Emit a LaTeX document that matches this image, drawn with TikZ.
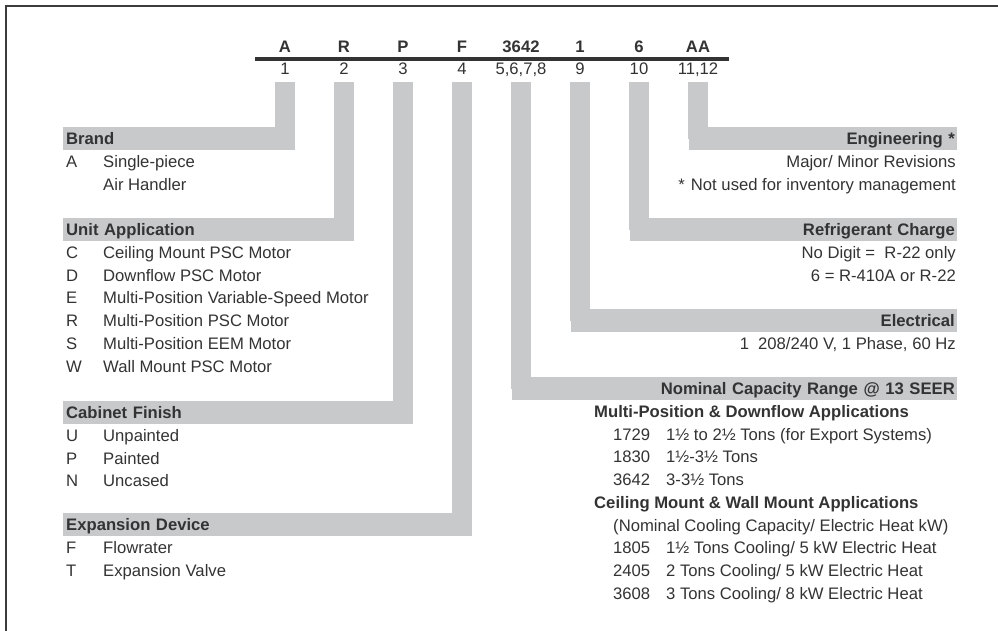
\documentclass[tikz,border=0pt]{standalone}
\usepackage{fontspec}
\setmainfont{Liberation Sans}
\usetikzlibrary{positioning}
\definecolor{mnbar}{HTML}{C8C9CB}
\definecolor{mntext}{HTML}{333333}
\definecolor{mnframe}{HTML}{3C3C3C}

\begin{document}
\begin{tikzpicture}[
  x=1pt, y=-1pt,
  every node/.style={text=mntext, font=\fontsize{16.66}{20}\selectfont},
  code/.style={font=\fontsize{16.66}{20}\selectfont\bfseries,
    text height=12pt, text depth=0pt, inner sep=0pt},
  digit/.style={text height=12pt, text depth=0pt, inner xsep=0pt, inner ysep=7pt},
  hdrleft/.style={fill=mnbar, font=\fontsize{16.66}{20}\selectfont\bfseries,
    anchor=north west, align=left, minimum height=23pt,
    text height=12pt, text depth=0pt, inner xsep=3pt, inner ysep=0pt},
  hdrright/.style={hdrleft, anchor=north east, align=right, inner xsep=2pt},
  item/.style={text height=12pt, text depth=0pt, inner sep=0pt, anchor=west},
  itemright/.style={item, anchor=east},
  subhdr/.style={item, font=\fontsize{16.66}{20}\selectfont\bfseries},
  bar/.style={draw=mnbar, line width=20pt},
]
\useasboundingbox (0,0) rectangle (998,631);

% frame
\draw[mnframe, line width=2.4pt] (6.2,631) -- (6.2,6.2) -- (998,6.2);

% model number and digit positions
\foreach \l [count=\i] in {A,R,P,F,3642,1,6,AA}
  \node[code] (c\i) at ({226+59*\i},47) {\l};
\foreach \d [count=\i] in {1,2,3,4,{5,6,7,8},9,10,{11,12}}
  \node[digit] (n\i) at ({226+59*\i},69) {\d};
\draw[mntext, line width=3.5pt] (255,59) -- (729,59);

% section headers
\node[hdrleft, text width=226pt] (brand) at (63,127) {Brand};
\node[hdrleft, text width=285pt] (unitapp) at (63,218) {Unit Application};
\node[hdrleft, text width=344pt] (cabinet) at (63,401) {Cabinet Finish};
\node[hdrleft, text width=403pt] (expansion) at (63,513) {Expansion Device};
\node[hdrright, text width=264pt] (engineering) at (957,127) {Engineering *};
\node[hdrright, text width=323pt] (refrigerant) at (957,218) {Refrigerant Charge};
\node[hdrright, text width=382pt] (electrical) at (957,309) {Electrical};
\node[hdrright, text width=441pt] (nominal) at (957,377) {Nominal Capacity Range @ 13 SEER};

% bars from digits to headers
\foreach \i/\h in {1/brand, 2/unitapp, 3/cabinet, 4/expansion,
                   5/nominal, 6/electrical, 7/refrigerant, 8/engineering}
  \draw[bar] (n\i.south) -- (n\i.south |- \h.center);

% Brand
\node[item] (br-1) at (66,161.5) {A};
\node[item] (br-t1) at (103,161.5) {Single-piece};
\node[item] (br-t2) at (103,184.2) {Air Handler};

% Unit Application
\foreach \c/\t [count=\i] in {C/Ceiling Mount PSC Motor, D/Downflow PSC Motor,
    E/Multi-Position Variable-Speed Motor, R/Multi-Position PSC Motor,
    S/Multi-Position EEM Motor, W/Wall Mount PSC Motor} {
  \node[item] (ua-\i) at (66,{229.8+22.7*\i}) {\c};
  \node[item] (ua-t\i) at (103,{229.8+22.7*\i}) {\t};
}

% Cabinet Finish
\foreach \c/\t [count=\i] in {U/Unpainted, P/Painted, N/Uncased} {
  \node[item] (cf-\i) at (66,{412.8+22.7*\i}) {\c};
  \node[item] (cf-t\i) at (103,{412.8+22.7*\i}) {\t};
}

% Expansion Device
\foreach \c/\t [count=\i] in {F/Flowrater, T/Expansion Valve} {
  \node[item] (ed-\i) at (66,{524.8+22.7*\i}) {\c};
  \node[item] (ed-t\i) at (103,{524.8+22.7*\i}) {\t};
}

% Engineering, Refrigerant Charge, Electrical
\node[itemright] (eng-1) at (956,161.5) {Major/ Minor Revisions};
\node[itemright] (eng-2) at (956,184.2) {*\hspace{6pt}Not used for inventory management};
\node[itemright] (rc-1) at (956,252.5) {No Digit =\ \ R-22 only};
\node[itemright] (rc-2) at (956,275.2) {6 = R-410A or R-22};
\node[itemright] (el-1) at (956,343.5) {1\hspace{9pt}208/240 V, 1 Phase, 60 Hz};

% Nominal Capacity Range
\node[subhdr] (nc-mp) at (594,411.5) {Multi-Position \& Downflow Applications};
\foreach \c/\t [count=\i] in {1729/{1½ to 2½ Tons (for Export Systems)},
    1830/{1½-3½ Tons}, 3642/{3-3½ Tons}} {
  \node[item] (nc-\i) at (613,{411.5+22.7*\i}) {\c};
  \node[item] (nc-t\i) at (666,{411.5+22.7*\i}) {\t};
}
\node[subhdr] (nc-cw) at (594,502.3) {Ceiling Mount \& Wall Mount Applications};
\node[item] (nc-note) at (613,525) {(Nominal Cooling Capacity/ Electric Heat kW)};
\foreach \c/\t [count=\i] in {1805/{1½ Tons Cooling/ 5 kW Electric Heat},
    2405/{2 Tons Cooling/ 5 kW Electric Heat},
    3608/{3 Tons Cooling/ 8 kW Electric Heat}} {
  \node[item] (cw-\i) at (613,{525+22.7*\i}) {\c};
  \node[item] (cw-t\i) at (666,{525+22.7*\i}) {\t};
}
\end{tikzpicture}
\end{document}
